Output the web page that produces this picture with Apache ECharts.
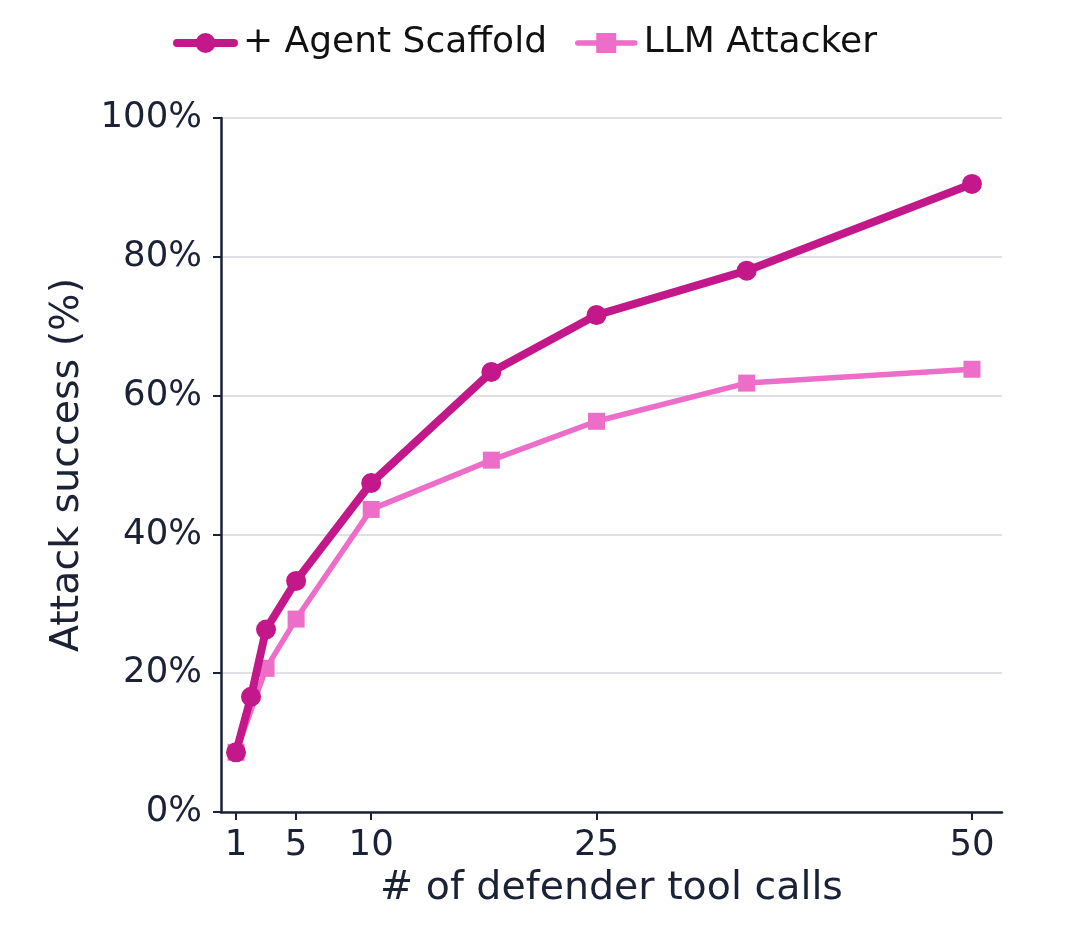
<!DOCTYPE html>
<html>
<head>
<meta charset="utf-8">
<script src="https://cdn.jsdelivr.net/npm/echarts@6/dist/echarts.min.js"></script>
<style>
html,body{margin:0;padding:0;background:#fff;}
#chart{width:1080px;height:936px;}
</style>
</head>
<body>
<div id="chart"></div>
<script>
const xTicks = [1, 5, 10, 25, 50];
const agentX = [1, 2, 3, 5, 10, 18, 25, 35, 50];
const agentY = [8.6, 16.6, 26.3, 33.3, 47.4, 63.4, 71.6, 78.0, 90.5];
const llmX = [1, 3, 5, 10, 18, 25, 35, 50];
const llmY = [8.6, 20.7, 27.8, 43.6, 50.7, 56.3, 61.8, 63.8];
const seriesNames = ['+ Agent Scaffold', 'LLM Attacker'];

const textColor = '#1b2236';
const font = 'DejaVu Sans';

const chart = echarts.init(document.getElementById('chart'), null, {renderer: 'canvas'});
chart.setOption({
  backgroundColor: '#ffffff',
  animation: false,
  textStyle: {fontFamily: font, color: textColor},
  legend: {
    top: 20,
    left: 168,
    itemWidth: 57,
    itemHeight: 25,
    itemGap: 28,
    lineStyle: {width: 'inherit', cap: 'round'},
    textStyle: {fontSize: 36, color: '#111111', fontFamily: font, padding: [0, 0, 0, 4]},
    data: seriesNames
  },
  grid: {left: 221, right: 78, top: 118, bottom: 124, containLabel: false},
  xAxis: {
    type: 'value',
    min: 0,
    max: 52,
    name: '# of defender tool calls',
    nameLocation: 'middle',
    nameGap: 57,
    nameTextStyle: {fontSize: 39.5, color: textColor, fontFamily: font},
    axisLine: {show: true, lineStyle: {color: textColor, width: 2.5}},
    axisTick: {show: true, customValues: xTicks, length: 8, lineStyle: {color: textColor, width: 2}},
    axisLabel: {customValues: xTicks, fontSize: 35.5, color: textColor, margin: 16, fontFamily: font},
    splitLine: {show: false}
  },
  yAxis: {
    type: 'value',
    min: 0,
    max: 100,
    interval: 20,
    name: 'Attack success (%)',
    nameLocation: 'middle',
    nameGap: 133,
    nameTextStyle: {fontSize: 39.5, color: textColor, fontFamily: font},
    axisLine: {show: true, lineStyle: {color: textColor, width: 2.5}},
    axisTick: {show: true, length: 8, lineStyle: {color: textColor, width: 2}},
    axisLabel: {formatter: '{value}%', fontSize: 35.5, color: textColor, margin: 19, fontFamily: font},
    splitLine: {show: true, lineStyle: {color: '#d4d7df', width: 1.5}}
  },
  series: [
    {
      name: seriesNames[0],
      type: 'line',
      data: agentX.map((x, i) => [x, agentY[i]]),
      symbol: 'circle',
      symbolSize: 20,
      z: 3,
      lineStyle: {color: '#c2188a', width: 8, cap: 'round', join: 'round'},
      itemStyle: {color: '#c2188a'}
    },
    {
      name: seriesNames[1],
      type: 'line',
      data: llmX.map((x, i) => [x, llmY[i]]),
      symbol: 'rect',
      symbolSize: 17,
      z: 2,
      lineStyle: {color: '#ec6ec8', width: 5.5, cap: 'round', join: 'round'},
      itemStyle: {color: '#ec6ec8'}
    }
  ]
});
</script>
</body>
</html>
